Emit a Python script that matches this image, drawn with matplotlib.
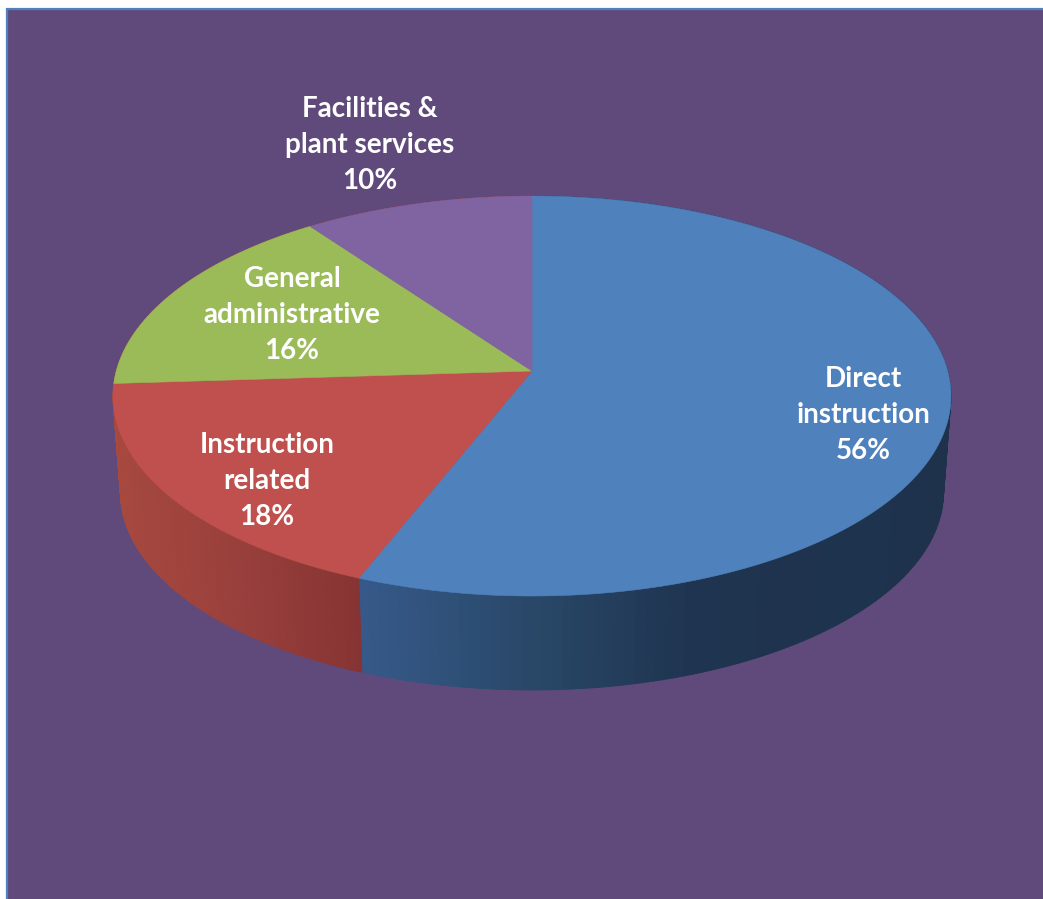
import numpy as np
import matplotlib
matplotlib.use("Agg")
import matplotlib.pyplot as plt
from matplotlib.collections import PolyCollection
from matplotlib.colors import to_rgb
from matplotlib.patches import Polygon, Rectangle

# Budget shares, clockwise from twelve o'clock
categories = ["Direct\ninstruction", "Instruction\nrelated", "General\nadministrative",
              "Facilities &\nplant services"]
shares = [56, 18, 16, 10]
top_colors = ["#4f81bd", "#c0504d", "#9bbb59", "#8064a2"]
label_anchor = [(863, 415), (267, 481), (292, 315), (370, 145)]

W, H = 1043, 899
BACKGROUND = "#604a7b"
FRAME = "#4f81bd"

# Perspective rims of the disc: (a, apex_y, b) with perspective strength K
K = 0.125
CX = 532.0
TOP_RIM = (415.7, 371.0, -150.5)
BOTTOM_RIM = (408.3, 467.25, -136.5)


def rim(theta, params):
    """Project a clockwise-from-top angle onto a rim of the disc, in pixels."""
    a, y0, b = params
    ux, uy = np.sin(theta), np.cos(theta)
    w = 1 + K * uy
    return CX + a * ux / w, (y0 + b * uy) / w


def side_colour(px, stops):
    xs, cols = zip(*stops)
    cols = np.array([to_rgb(c) for c in cols])
    return [np.interp(px, xs, cols[:, i]) for i in range(3)]


# The walls behind the red slice only show as a sliver at its left edge,
# so they continue the red shading instead of their own hue.
red_wall = [(115, "#a8493f"), (240, "#9a403c"), (362, "#863433")]
side_stops = [
    [(362, "#36598a"), (530, "#294868"), (690, "#1f3450"), (950, "#1e324c")],
    red_wall,
    red_wall,
    red_wall,
]

fig = plt.figure(figsize=(W / 100, H / 100), dpi=100, facecolor="white")
ax = fig.add_axes([0, 0, 1, 1])
ax.set_xlim(0, W)
ax.set_ylim(H, 0)
ax.axis("off")

ax.add_patch(Rectangle((7, 9), W + 20, H + 20, facecolor=BACKGROUND, edgecolor=FRAME, linewidth=1.6))

fractions = np.cumsum([0] + shares) / sum(shares)
edges = 2 * np.pi * fractions

# Side wall first, as thin shaded strips, so the top face covers its back half
for i in range(len(shares)):
    t = np.linspace(edges[i], edges[i + 1], 160)
    xt, yt = rim(t, TOP_RIM)
    xb, yb = rim(t, BOTTOM_RIM)
    quads, cols = [], []
    for j in range(len(t) - 1):
        quads.append([(xt[j], yt[j]), (xt[j + 1], yt[j + 1]), (xb[j + 1], yb[j + 1]), (xb[j], yb[j])])
        cols.append(side_colour(0.5 * (xb[j] + xb[j + 1]), side_stops[i]))
    ax.add_collection(PolyCollection(quads, facecolors=cols, edgecolors=cols, linewidths=0.6, zorder=2))

# Top face wedges
for i in range(len(shares)):
    t = np.linspace(edges[i], edges[i + 1], 240)
    xt, yt = rim(t, TOP_RIM)
    pts = np.column_stack([np.r_[CX, xt], np.r_[TOP_RIM[1], yt]])
    ax.add_patch(Polygon(pts, closed=True, facecolor=top_colors[i], edgecolor=top_colors[i],
                         linewidth=0.4, zorder=3))

for name, share, (lx, ly) in zip(categories, shares, label_anchor):
    ax.text(lx, ly, f"{name}\n{share}%", ha="center", va="center", color="white",
            family="Lato", weight="bold", fontsize=20, linespacing=1.46, zorder=5)

fig.savefig("out.png", dpi=100, facecolor="white")
